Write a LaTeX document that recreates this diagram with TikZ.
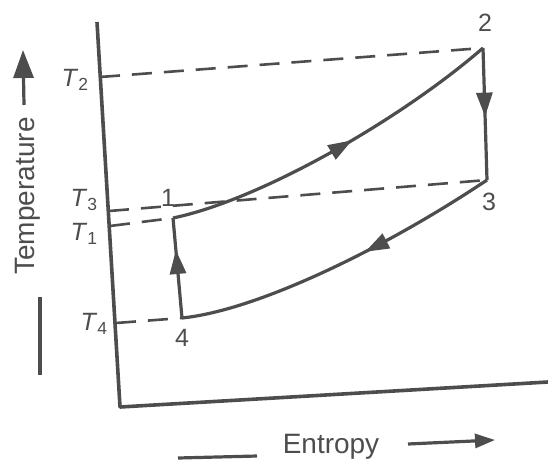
\documentclass[tikz,border=0pt]{standalone}
\usepackage{fontspec}
\setmainfont{Liberation Sans}
\usetikzlibrary{arrows.meta,decorations.markings}
\definecolor{ink}{HTML}{4D4D4D}
\tikzset{
  line/.style={draw=ink,line width=3.2pt},
  dashline/.style={draw=ink,line width=2.6pt,dash pattern=on 20pt off 12pt},
  midarrow/.style={postaction={decorate},decoration={markings,
    mark=at position #1 with {\arrow[ink]{Triangle[length=24pt,width=16pt]}}}},
  lbl/.style={text=ink,font=\fontsize{25}{28}\selectfont,inner sep=0pt},
  axlbl/.style={text=ink,font=\fontsize{28}{32}\selectfont,inner sep=0pt}
}
\begin{document}
\begin{tikzpicture}[x=1pt,y=-1pt]
\useasboundingbox (0,0) rectangle (548,471);
% axes
\coordinate (top) at (97,22);
\coordinate (org) at (120,407);
\coordinate (right) at (548,382);
\draw[line,line width=3.6pt,line join=round] (top) -- (org) -- (right);
% state points
\coordinate (p1) at (173,218);
\coordinate (p2) at (483,48);
\coordinate (p3) at (487,180);
\coordinate (p4) at (182,318);
% axis points
\coordinate (a2) at (100,77);
\coordinate (a3) at (109,211);
\coordinate (a1) at (110,226);
\coordinate (a4) at (116,323);
% dashed lines
\draw[dashline] (a2) -- (p2);
\draw[dashline] (a3) -- (p3);
\draw[dashline] (a1) -- (p1);
\draw[dashline] (a4) -- (p4);
% cycle
\draw[line,midarrow=0.55] (p1) .. controls (260,200) and (400,120) .. (p2);
\draw[line,midarrow=0.52] (p2) -- (p3);
\draw[line,midarrow=0.42] (p3) .. controls (390,245) and (260,310) .. (p4);
\draw[line,midarrow=0.68] (p4) -- (p1);
% point labels
\node[lbl] (n1) at (168,198) {1};
\node[lbl] (n2) at (485,23) {2};
\node[lbl] (n3) at (489,202) {3};
\node[lbl] (n4) at (182,338) {4};
% temperature labels
\node[lbl] (t2) at (75,80) {\textit{T}\textsubscript{2}};
\node[lbl] (t3) at (84,200) {\textit{T}\textsubscript{3}};
\node[lbl] (t1) at (84,234) {\textit{T}\textsubscript{1}};
\node[lbl] (t4) at (94,324) {\textit{T}\textsubscript{4}};
% axis titles
\node[axlbl,rotate=90] (temp) at (28,196) {Temperature};
\coordinate (tb1) at (40,375);
\coordinate (tb2) at (40,297);
\draw[line] (tb1) -- (tb2);
\coordinate (ta1) at (24,105);
\coordinate (ta2) at (23,50);
\draw[line,-{Triangle[length=28pt,width=20pt]}] (ta1) -- (ta2);
\node[axlbl] (ent) at (331,447) {Entropy};
\coordinate (eb1) at (178,458);
\coordinate (eb2) at (257,456);
\draw[line] (eb1) -- (eb2);
\coordinate (ea1) at (408,444);
\coordinate (ea2) at (495,440);
\draw[line,-{Triangle[length=20pt,width=14pt]}] (ea1) -- (ea2);
\end{tikzpicture}
\end{document}
